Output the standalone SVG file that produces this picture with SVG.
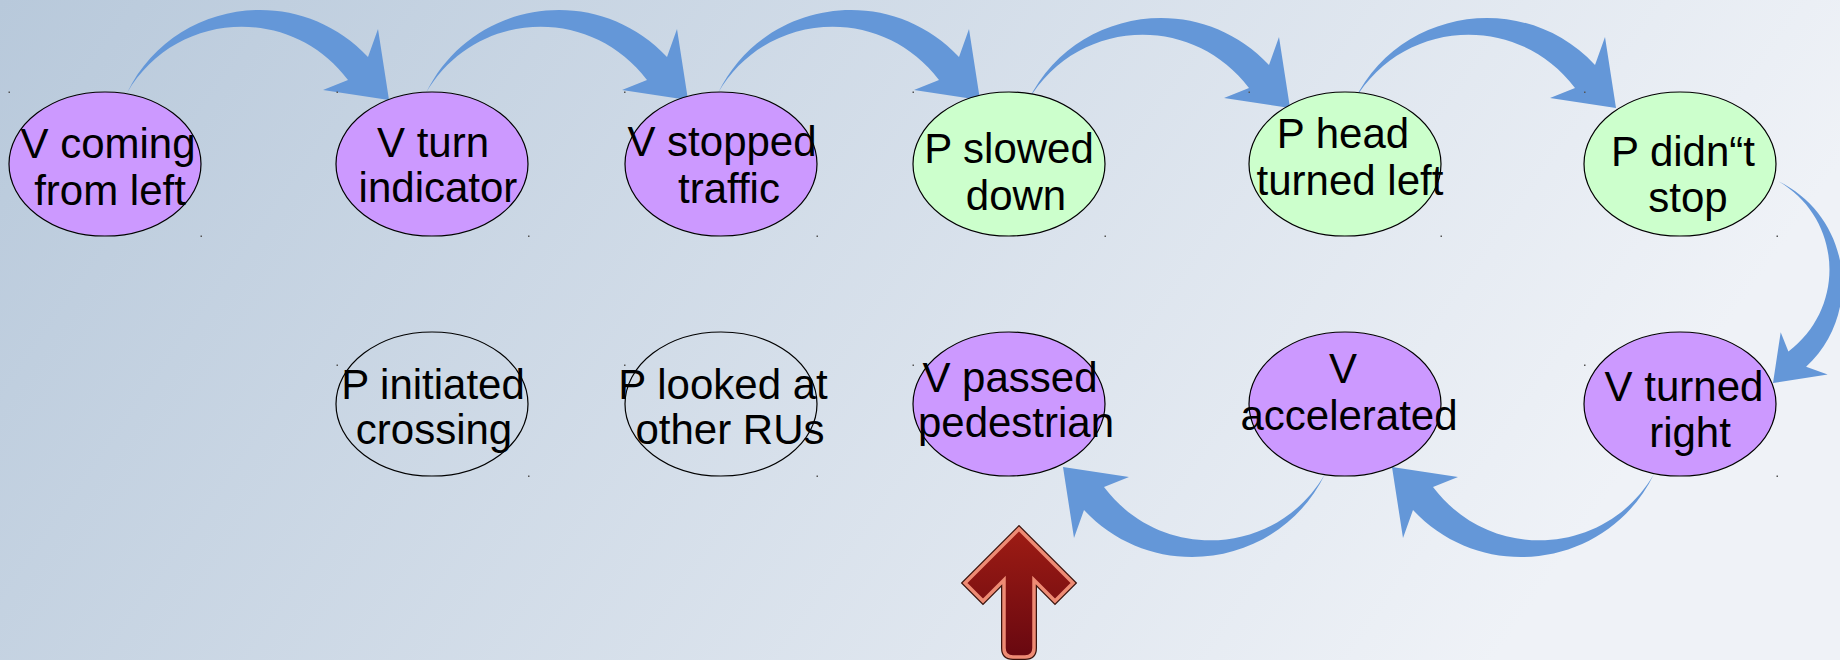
<svg xmlns="http://www.w3.org/2000/svg" width="1840" height="660" viewBox="0 0 1840 660">
<defs>
<linearGradient id="bg" x1="0" y1="0" x2="1" y2="0.25">
<stop offset="0" stop-color="#b8c9db"/>
<stop offset="1" stop-color="#eff2f7"/>
</linearGradient>
<linearGradient id="red" x1="0" y1="0" x2="0" y2="1">
<stop offset="0" stop-color="#9e1c14"/>
<stop offset="1" stop-color="#680810"/>
</linearGradient>
<path id="carrow" d="M -262,-7 C -217,-100 -92,-119 -21,-43 L -11,-71 L 0,0 L -66,-10 L -41,-20 C -98,-96 -214,-90 -262,-7 Z"/>
</defs>
<style>
.n ellipse{stroke:#000;stroke-width:1.2}
.v ellipse{fill:#cc99ff}
.p ellipse{fill:#ccffcc}
.e ellipse{fill:none}
text{font-family:"Liberation Sans",Arial,sans-serif;font-size:42px;fill:#000;text-anchor:middle}
.c use{fill:#6497d8}
.d{fill:#555}
</style>
<rect width="1840" height="660" fill="url(#bg)"/>

<g id="connectors" class="c">
<use href="#carrow" transform="translate(389,100)"/>
<use href="#carrow" transform="translate(688,100)"/>
<use href="#carrow" transform="translate(980,100)"/>
<use href="#carrow" transform="translate(1290,108)"/>
<use href="#carrow" transform="translate(1616,108)"/>
<use href="#carrow" transform="translate(1773,383) rotate(90) scale(0.77)"/>
<use href="#carrow" transform="translate(1392,467) rotate(180)"/>
<use href="#carrow" transform="translate(1063,467) rotate(180)"/>
</g>

<g id="n1" class="n v"><ellipse cx="105" cy="164" rx="96" ry="72"/><text x="108" y="158">V coming</text><text x="110" y="205">from left</text></g>
<g id="n2" class="n v"><ellipse cx="432" cy="164" rx="96" ry="72"/><text x="433" y="157">V turn</text><text x="438" y="202">indicator</text></g>
<g id="n3" class="n v"><ellipse cx="721" cy="164" rx="96" ry="72"/><text x="722" y="156">V stopped</text><text x="729" y="203">traffic</text></g>
<g id="n4" class="n p"><ellipse cx="1009" cy="164" rx="96" ry="72"/><text x="1009" y="163">P slowed</text><text x="1016" y="210">down</text></g>
<g id="n5" class="n p"><ellipse cx="1345" cy="164" rx="96" ry="72"/><text x="1343" y="148">P head</text><text x="1350" y="195">turned left</text></g>
<g id="n6" class="n p"><ellipse cx="1680" cy="164" rx="96" ry="72"/><text x="1683" y="166">P didn“t</text><text x="1688" y="212">stop</text></g>

<g id="n7" class="n e"><ellipse cx="432" cy="404" rx="96" ry="72"/><text x="433" y="399">P initiated</text><text x="434" y="444">crossing</text></g>
<g id="n8" class="n e"><ellipse cx="721" cy="404" rx="96" ry="72"/><text x="723" y="399">P looked at</text><text x="730" y="444">other RUs</text></g>
<g id="n9" class="n v"><ellipse cx="1009" cy="404" rx="96" ry="72"/><text x="1010" y="392">V passed</text><text x="1016" y="437">pedestrian</text></g>
<g id="n10" class="n v"><ellipse cx="1345" cy="404" rx="96" ry="72"/><text x="1343" y="383">V</text><text x="1349" y="430">accelerated</text></g>
<g id="n11" class="n v"><ellipse cx="1680" cy="404" rx="96" ry="72"/><text x="1684" y="401">V turned</text><text x="1690" y="447">right</text></g>

<g id="marks">
<rect class="d" x="8.5" y="91.5" width="1.5" height="1.5"/><rect class="d" x="200.5" y="235.5" width="1.5" height="1.5"/>
<rect class="d" x="336.5" y="91.5" width="1.5" height="1.5"/><rect class="d" x="528" y="235.5" width="1.5" height="1.5"/>
<rect class="d" x="624" y="91.5" width="1.5" height="1.5"/><rect class="d" x="816.5" y="235.5" width="1.5" height="1.5"/>
<rect class="d" x="912.5" y="91.5" width="1.5" height="1.5"/><rect class="d" x="1104.5" y="235.5" width="1.5" height="1.5"/>
<rect class="d" x="1248.5" y="91.5" width="1.5" height="1.5"/><rect class="d" x="1440.5" y="235.5" width="1.5" height="1.5"/>
<rect class="d" x="1584" y="91.5" width="1.5" height="1.5"/><rect class="d" x="1776.5" y="235.5" width="1.5" height="1.5"/>
<rect class="d" x="336.5" y="364.5" width="1.5" height="1.5"/><rect class="d" x="528" y="475.5" width="1.5" height="1.5"/>
<rect class="d" x="624" y="364.5" width="1.5" height="1.5"/><rect class="d" x="816.5" y="475.5" width="1.5" height="1.5"/>
<rect class="d" x="912.5" y="364.5" width="1.5" height="1.5"/>
<rect class="d" x="1584" y="364.5" width="1.5" height="1.5"/><rect class="d" x="1776.5" y="475.5" width="1.5" height="1.5"/>
</g>

<g id="bigarrow">
<path d="M1019,529 L965,583 L983,601 L1004,580 L1004,648 Q1004,657 1013,657 L1025,657 Q1034,657 1034,648 L1034,580 L1055,601 L1073,583 Z" fill="none" stroke="#3a130c" stroke-width="6" stroke-linejoin="miter"/>
<path d="M1019,529 L965,583 L983,601 L1004,580 L1004,648 Q1004,657 1013,657 L1025,657 Q1034,657 1034,648 L1034,580 L1055,601 L1073,583 Z" fill="url(#red)" stroke="#ee8b74" stroke-width="3.5" stroke-linejoin="miter"/>
</g>
</svg>
